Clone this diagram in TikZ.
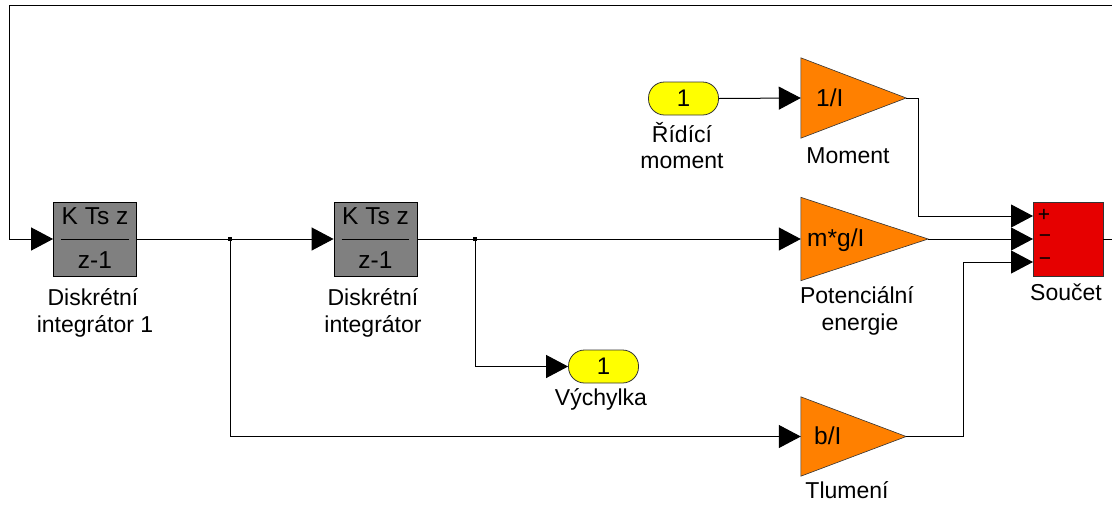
\documentclass[tikz,border=0pt]{standalone}
\usepackage{fontspec}
\setmainfont{Liberation Sans}
\usetikzlibrary{arrows.meta}
\definecolor{sgray}{RGB}{128,128,128}
\definecolor{sorange}{RGB}{255,128,0}
\definecolor{syellow}{RGB}{255,255,0}
\definecolor{sred}{RGB}{230,0,0}
\begin{document}
\begin{tikzpicture}[x=1pt,y=-1pt,
  wire/.style={line width=1pt, draw=black},
  sarrow/.style={wire,-{Triangle[length=22pt,width=23pt]}},
  txt/.style={font=\fontsize{23}{27}\selectfont, inner sep=0pt},
  btxt/.style={font=\fontsize{24.5}{27}\selectfont, inner sep=0pt},
  lbl/.style={txt, anchor=base},
  sgn/.style={font=\fontsize{21}{22}\selectfont, inner sep=0pt},
  intblk/.style={draw=black, line width=0.8pt, fill=sgray, inner sep=0pt, minimum width=83pt, minimum height=74pt},
  gainbox/.style={inner sep=0pt},
  gainfill/.style={draw=black!80, line width=0.6pt, fill=sorange},
  pill/.style={draw=black!80, line width=0.8pt, fill=syellow, rounded corners=16pt, inner sep=0pt, minimum width=70pt, minimum height=33pt, font=\fontsize{24}{27}\selectfont},
  sumblk/.style={draw=black!80, line width=0.8pt, fill=sred, inner sep=0pt, minimum width=70pt, minimum height=74pt},
  dot/.style={fill=black, inner sep=0pt, minimum size=4pt}
]
\useasboundingbox (0,0) rectangle (1112,504);

% integrators
\node[intblk] (int1) at (95,239) {};
\draw[black, line width=0.8pt] ([xshift=8pt]int1.west) -- ([xshift=-8pt]int1.east);
\node[btxt, anchor=base] (int1n) at (95,224) {K Ts z};
\node[btxt, anchor=base] (int1d) at (95,268) {z-1};
\node[lbl] (int1l1) at (93,305) {Diskrétní};
\node[lbl] (int1l2) at (95,332) {integrátor 1};

\node[intblk] (int2) at (375.5,239) {};
\draw[black, line width=0.8pt] ([xshift=8pt]int2.west) -- ([xshift=-8pt]int2.east);
\node[btxt, anchor=base] (int2n) at (375.5,224) {K Ts z};
\node[btxt, anchor=base] (int2d) at (375.5,268) {z-1};
\node[lbl] (int2l1) at (373,305) {Diskrétní};
\node[lbl] (int2l2) at (373,332) {integrátor};

% gains
\node[gainbox, minimum width=105pt, minimum height=80pt] (mom) at (853.5,98) {};
\filldraw[gainfill] (mom.north west) -- (mom.east) -- (mom.south west) -- cycle;
\node[btxt, anchor=base west] (momt) at (816,106) {1/I};
\node[lbl] (moml) at (848,163) {Moment};

\node[gainbox, minimum width=127pt, minimum height=83pt] (pot) at (864.5,239) {};
\filldraw[gainfill] (pot.north west) -- (pot.east) -- (pot.south west) -- cycle;
\node[btxt, anchor=base west] (pott) at (807,246) {m*g/I};
\node[lbl] (potl1) at (857,303) {Potenciální};
\node[lbl] (potl2) at (860,330) {energie};

\node[gainbox, minimum width=105pt, minimum height=79pt] (tlum) at (853.5,436.5) {};
\filldraw[gainfill] (tlum.north west) -- (tlum.east) -- (tlum.south west) -- cycle;
\node[btxt, anchor=base west] (tlumt) at (814,444) {b/I};
\node[lbl] (tluml) at (847,498) {Tlumení};

% ports
\node[pill] (rid) at (683.5,98.5) {1};
\node[lbl] (ridl1) at (682,142) {Řídící};
\node[lbl] (ridl2) at (682,168) {moment};

\node[pill] (vych) at (603.5,366.5) {1};
\node[lbl] (vychl) at (601,405) {Výchylka};

% sum
\node[sumblk] (sum) at (1068,239) {};
\node[lbl] (suml) at (1066,300) {Součet};
\coordinate (s1) at (1033,216);
\coordinate (s2) at (1033,239);
\coordinate (s3) at (1033,262);
\node[sgn] (sg1) at (1044,215) {+};
\node[sgn] (sg2) at (1045,239) {−};
\node[sgn] (sg3) at (1045,262) {−};

% branch points
\node[dot] (b1) at (230,239) {};
\node[dot] (b2) at (475,239) {};

% helper coordinates
\coordinate (c1) at (918,216);
\coordinate (c3) at (963,262);
\coordinate (rout) at (1112,239);
\coordinate (rtop) at (1112,5);
\coordinate (ltop) at (9,5);

% wires
\draw[sarrow] (rtop) -- (ltop) |- (int1.west);
\draw[wire] (int1.east) -- (b1.center);
\draw[sarrow] (b1.center) -- (int2.west);
\draw[sarrow] (b1.center) |- (tlum.west);
\draw[wire] (int2.east) -- (b2.center);
\draw[sarrow] (b2.center) -- (pot.west);
\draw[sarrow] (b2.center) |- (vych.west);
\draw[sarrow] (rid.east) -- (mom.west);
\draw[sarrow] (mom.east) -| (c1) -- (s1);
\draw[sarrow] (pot.east) -- (s2);
\draw[sarrow] (tlum.east) -| (c3) -- (s3);
\draw[wire] (sum.east) -- (rout);
\end{tikzpicture}
\end{document}
